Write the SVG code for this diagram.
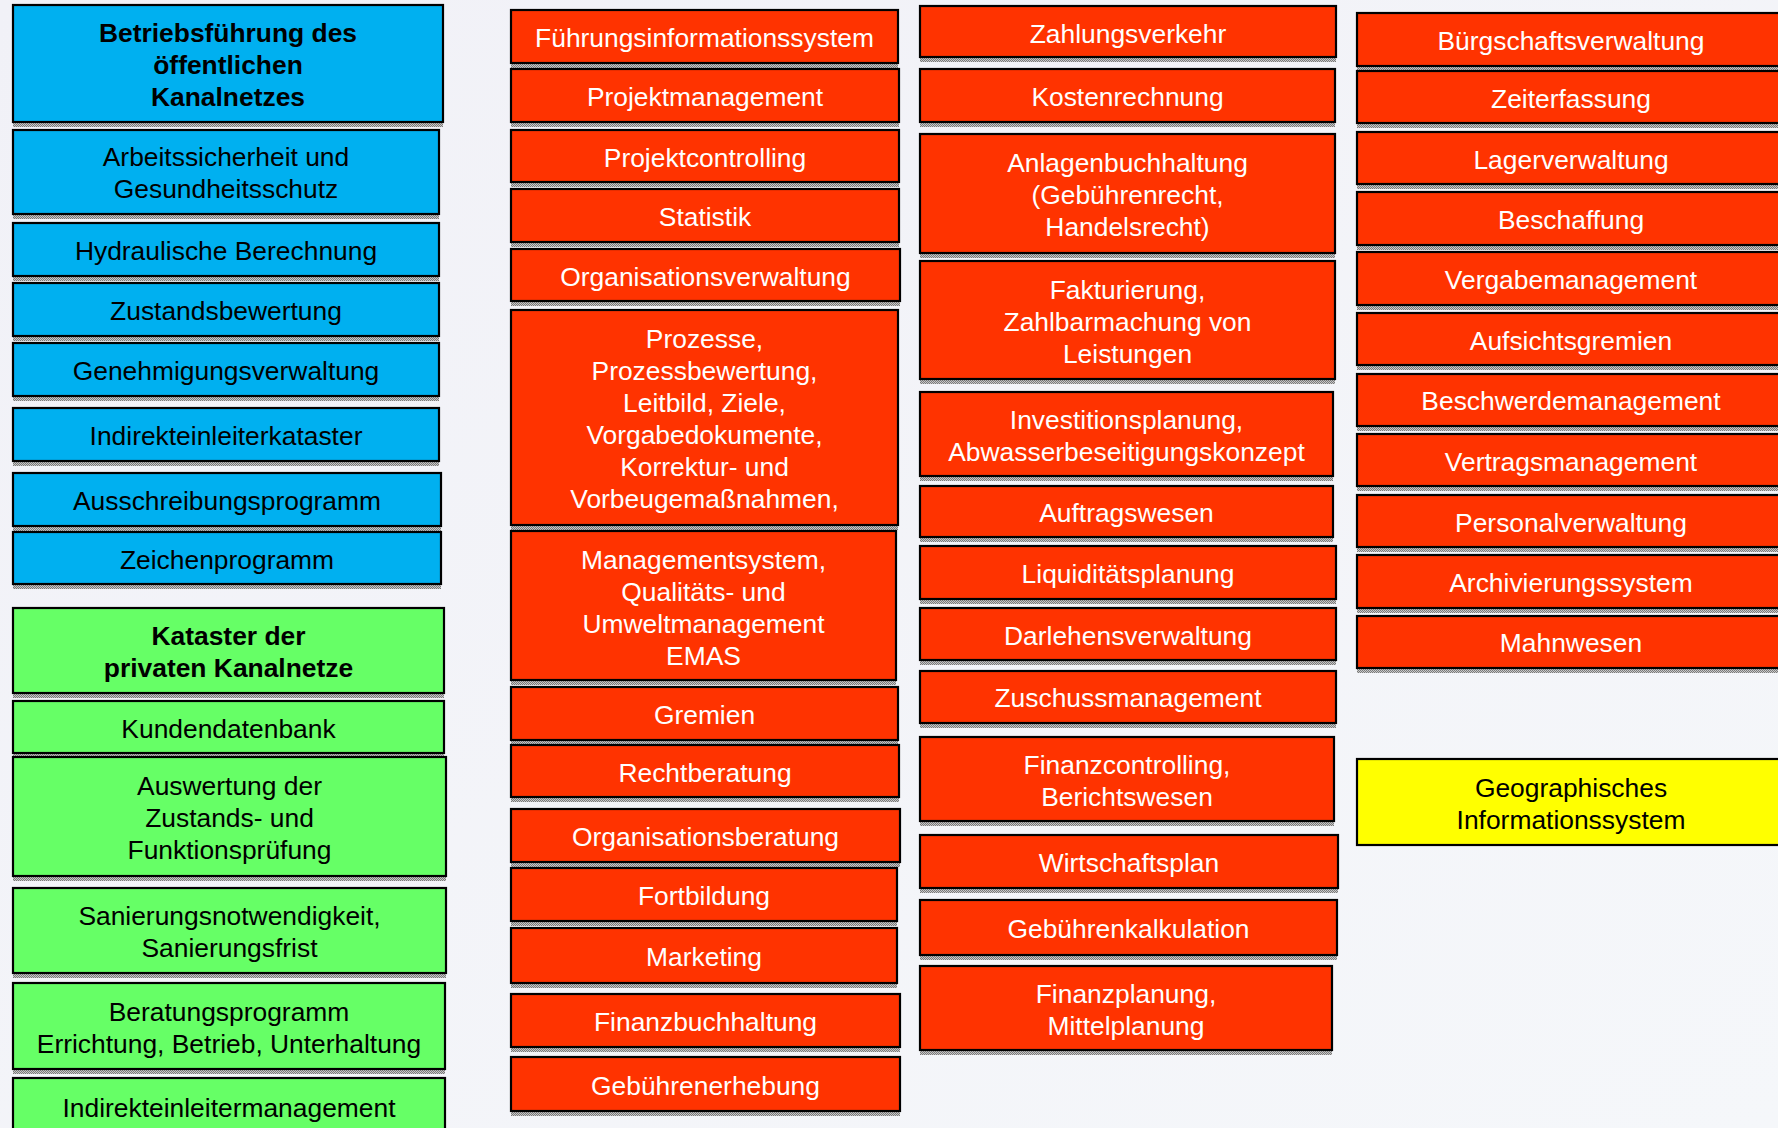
<svg xmlns="http://www.w3.org/2000/svg" width="1778" height="1128" viewBox="0 0 1778 1128">
<defs>
<linearGradient id="bg" x1="0" y1="0" x2="1" y2="1">
<stop offset="0" stop-color="#F1F1F7"/>
<stop offset="1" stop-color="#F5F7FA"/>
</linearGradient>
<pattern id="dots" width="2" height="2" patternUnits="userSpaceOnUse">
<rect width="2" height="2" fill="#c8c8c8"/>
<rect width="1" height="1" fill="#7a7a7a"/>
<rect x="1" y="1" width="1" height="1" fill="#7a7a7a"/>
</pattern>
</defs>
<style>
.sh{fill:url(#dots)}
.bx{stroke:#000;stroke-width:2.2}
.b{fill:#00B0F0}
.g{fill:#66FF66}
.r{fill:#FF3300}
.y{fill:#FFFF00}
text{font-family:"Liberation Sans",Arial,sans-serif;font-size:26.4px;text-anchor:middle;fill:#000}
.w{fill:#fff}
.bd{font-weight:bold}
</style>
<rect width="1778" height="1128" fill="url(#bg)"/>
<g id="connectors"></g>

<!-- Column 1 blue -->
<g id="n-betrieb"><rect class="sh" x="13" y="122" width="430" height="5"/><rect class="bx b" x="13" y="5" width="430" height="117"/><text class="bd" x="228" y="42">Betriebsführung des</text><text class="bd" x="228" y="74">öffentlichen</text><text class="bd" x="228" y="106">Kanalnetzes</text></g>
<g id="n-arbeit"><rect class="sh" x="13" y="214" width="426" height="5"/><rect class="bx b" x="13" y="130" width="426" height="84"/><text x="226" y="166">Arbeitssicherheit und</text><text x="226" y="198">Gesundheitsschutz</text></g>
<g id="n-hydr"><rect class="sh" x="13" y="276" width="426" height="5"/><rect class="bx b" x="13" y="223" width="426" height="53"/><text x="226" y="259.5">Hydraulische Berechnung</text></g>
<g id="n-zust"><rect class="sh" x="13" y="336" width="426" height="5"/><rect class="bx b" x="13" y="283" width="426" height="53"/><text x="226" y="320">Zustandsbewertung</text></g>
<g id="n-geneh"><rect class="sh" x="13" y="396" width="426" height="5"/><rect class="bx b" x="13" y="343" width="426" height="53"/><text x="226" y="380">Genehmigungsverwaltung</text></g>
<g id="n-indkat"><rect class="sh" x="13" y="461" width="426" height="5"/><rect class="bx b" x="13" y="408" width="426" height="53"/><text x="226" y="445">Indirekteinleiterkataster</text></g>
<g id="n-aussch"><rect class="sh" x="13" y="526" width="428" height="5"/><rect class="bx b" x="13" y="473" width="428" height="53"/><text x="227" y="510">Ausschreibungsprogramm</text></g>
<g id="n-zeichen"><rect class="sh" x="13" y="584" width="428" height="5"/><rect class="bx b" x="13" y="532" width="428" height="52"/><text x="227" y="568.5">Zeichenprogramm</text></g>

<!-- Column 1 green -->
<g id="n-kataster"><rect class="sh" x="13" y="693" width="431" height="5"/><rect class="bx g" x="13" y="608" width="431" height="85"/><text class="bd" x="228.5" y="645">Kataster der</text><text class="bd" x="228.5" y="677">privaten Kanalnetze</text></g>
<g id="n-kunden"><rect class="sh" x="13" y="753" width="431" height="5"/><rect class="bx g" x="13" y="701" width="431" height="52"/><text x="228.5" y="737.5">Kundendatenbank</text></g>
<g id="n-auswert"><rect class="sh" x="13" y="876" width="433" height="5"/><rect class="bx g" x="13" y="757" width="433" height="119"/><text x="229.5" y="795">Auswertung der</text><text x="229.5" y="827">Zustands- und</text><text x="229.5" y="859">Funktionsprüfung</text></g>
<g id="n-sanier"><rect class="sh" x="13" y="973" width="433" height="5"/><rect class="bx g" x="13" y="888" width="433" height="85"/><text x="229.5" y="925">Sanierungsnotwendigkeit,</text><text x="229.5" y="957">Sanierungsfrist</text></g>
<g id="n-berat"><rect class="sh" x="13" y="1069" width="432" height="5"/><rect class="bx g" x="13" y="983" width="432" height="86"/><text x="229" y="1020.5">Beratungsprogramm</text><text x="229" y="1052.5">Errichtung, Betrieb, Unterhaltung</text></g>
<g id="n-indman"><rect class="bx g" x="13" y="1078" width="432" height="58"/><text x="229" y="1117">Indirekteinleitermanagement</text></g>

<!-- Column 2 -->
<g id="n-fis"><rect class="sh" x="511" y="63" width="387" height="5"/><rect class="bx r" x="511" y="10" width="387" height="53"/><text class="w" x="704.5" y="47">Führungsinformationssystem</text></g>
<g id="n-projman"><rect class="sh" x="511" y="122" width="388" height="5"/><rect class="bx r" x="511" y="69" width="388" height="53"/><text class="w" x="705" y="106">Projektmanagement</text></g>
<g id="n-projctrl"><rect class="sh" x="511" y="182" width="388" height="5"/><rect class="bx r" x="511" y="130" width="388" height="52"/><text class="w" x="705" y="166.5">Projektcontrolling</text></g>
<g id="n-stat"><rect class="sh" x="511" y="242" width="388" height="5"/><rect class="bx r" x="511" y="189" width="388" height="53"/><text class="w" x="705" y="226">Statistik</text></g>
<g id="n-orgverw"><rect class="sh" x="511" y="301" width="389" height="5"/><rect class="bx r" x="511" y="249" width="389" height="52"/><text class="w" x="705.5" y="285.5">Organisationsverwaltung</text></g>
<g id="n-prozesse"><rect class="sh" x="511" y="525" width="387" height="5"/><rect class="bx r" x="511" y="310" width="387" height="215"/><text class="w" x="704.5" y="348">Prozesse,</text><text class="w" x="704.5" y="380">Prozessbewertung,</text><text class="w" x="704.5" y="412">Leitbild, Ziele,</text><text class="w" x="704.5" y="444">Vorgabedokumente,</text><text class="w" x="704.5" y="476">Korrektur- und</text><text class="w" x="704.5" y="508">Vorbeugemaßnahmen,</text></g>
<g id="n-mgmt"><rect class="sh" x="511" y="680" width="385" height="5"/><rect class="bx r" x="511" y="531" width="385" height="149"/><text class="w" x="703.5" y="568.5">Managementsystem,</text><text class="w" x="703.5" y="600.5">Qualitäts- und</text><text class="w" x="703.5" y="632.5">Umweltmanagement</text><text class="w" x="703.5" y="664.5">EMAS</text></g>
<g id="n-gremien"><rect class="sh" x="511" y="740" width="387" height="5"/><rect class="bx r" x="511" y="687" width="387" height="53"/><text class="w" x="704.5" y="724">Gremien</text></g>
<g id="n-recht"><rect class="sh" x="511" y="797" width="388" height="5"/><rect class="bx r" x="511" y="745" width="388" height="52"/><text class="w" x="705" y="781.5">Rechtberatung</text></g>
<g id="n-orgber"><rect class="sh" x="511" y="862" width="389" height="5"/><rect class="bx r" x="511" y="809" width="389" height="53"/><text class="w" x="705.5" y="846">Organisationsberatung</text></g>
<g id="n-fortb"><rect class="sh" x="511" y="921" width="386" height="5"/><rect class="bx r" x="511" y="868" width="386" height="53"/><text class="w" x="704" y="905">Fortbildung</text></g>
<g id="n-marketing"><rect class="sh" x="511" y="983" width="386" height="5"/><rect class="bx r" x="511" y="928" width="386" height="55"/><text class="w" x="704" y="966">Marketing</text></g>
<g id="n-finbuch"><rect class="sh" x="511" y="1047" width="389" height="5"/><rect class="bx r" x="511" y="994" width="389" height="53"/><text class="w" x="705.5" y="1031">Finanzbuchhaltung</text></g>
<g id="n-gebhb"><rect class="sh" x="511" y="1111" width="389" height="5"/><rect class="bx r" x="511" y="1057" width="389" height="54"/><text class="w" x="705.5" y="1094.5">Gebührenerhebung</text></g>

<!-- Column 3 -->
<g id="n-zahlung"><rect class="sh" x="920" y="57" width="416" height="5"/><rect class="bx r" x="920" y="6" width="416" height="51"/><text class="w" x="1128" y="42.5">Zahlungsverkehr</text></g>
<g id="n-kosten"><rect class="sh" x="920" y="122" width="415" height="5"/><rect class="bx r" x="920" y="69" width="415" height="53"/><text class="w" x="1127.5" y="106">Kostenrechnung</text></g>
<g id="n-anlagen"><rect class="sh" x="920" y="253" width="415" height="5"/><rect class="bx r" x="920" y="134" width="415" height="119"/><text class="w" x="1127.5" y="172">Anlagenbuchhaltung</text><text class="w" x="1127.5" y="204">(Gebührenrecht,</text><text class="w" x="1127.5" y="236">Handelsrecht)</text></g>
<g id="n-faktur"><rect class="sh" x="920" y="379" width="415" height="5"/><rect class="bx r" x="920" y="261" width="415" height="118"/><text class="w" x="1127.5" y="298.5">Fakturierung,</text><text class="w" x="1127.5" y="330.5">Zahlbarmachung von</text><text class="w" x="1127.5" y="362.5">Leistungen</text></g>
<g id="n-invest"><rect class="sh" x="920" y="476" width="413" height="5"/><rect class="bx r" x="920" y="392" width="413" height="84"/><text class="w" x="1126.5" y="428.5">Investitionsplanung,</text><text class="w" x="1126.5" y="460.5">Abwasserbeseitigungskonzept</text></g>
<g id="n-auftrag"><rect class="sh" x="920" y="537" width="413" height="5"/><rect class="bx r" x="920" y="486" width="413" height="51"/><text class="w" x="1126.5" y="522">Auftragswesen</text></g>
<g id="n-liqui"><rect class="sh" x="920" y="599" width="416" height="5"/><rect class="bx r" x="920" y="546" width="416" height="53"/><text class="w" x="1128" y="583">Liquiditätsplanung</text></g>
<g id="n-darlehen"><rect class="sh" x="920" y="660" width="416" height="5"/><rect class="bx r" x="920" y="608" width="416" height="52"/><text class="w" x="1128" y="644.5">Darlehensverwaltung</text></g>
<g id="n-zuschuss"><rect class="sh" x="920" y="723" width="416" height="5"/><rect class="bx r" x="920" y="671" width="416" height="52"/><text class="w" x="1128" y="707">Zuschussmanagement</text></g>
<g id="n-fincontr"><rect class="sh" x="920" y="821" width="414" height="5"/><rect class="bx r" x="920" y="737" width="414" height="84"/><text class="w" x="1127" y="773.5">Finanzcontrolling,</text><text class="w" x="1127" y="805.5">Berichtswesen</text></g>
<g id="n-wirtsch"><rect class="sh" x="920" y="888" width="418" height="5"/><rect class="bx r" x="920" y="835" width="418" height="53"/><text class="w" x="1129" y="872">Wirtschaftsplan</text></g>
<g id="n-gebkalk"><rect class="sh" x="920" y="955" width="417" height="5"/><rect class="bx r" x="920" y="900" width="417" height="55"/><text class="w" x="1128.5" y="938">Gebührenkalkulation</text></g>
<g id="n-finplan"><rect class="sh" x="920" y="1050" width="412" height="5"/><rect class="bx r" x="920" y="966" width="412" height="84"/><text class="w" x="1126" y="1002.5">Finanzplanung,</text><text class="w" x="1126" y="1034.5">Mittelplanung</text></g>

<!-- Column 4 -->
<g id="n-buergschaft"><rect class="sh" x="1357" y="66" width="428" height="5"/><rect class="bx r" x="1357" y="13" width="428" height="53"/><text class="w" x="1571" y="50">Bürgschaftsverwaltung</text></g>
<g id="n-zeit"><rect class="sh" x="1357" y="123" width="428" height="5"/><rect class="bx r" x="1357" y="71" width="428" height="52"/><text class="w" x="1571" y="107.5">Zeiterfassung</text></g>
<g id="n-lager"><rect class="sh" x="1357" y="184" width="428" height="5"/><rect class="bx r" x="1357" y="132" width="428" height="52"/><text class="w" x="1571" y="168.5">Lagerverwaltung</text></g>
<g id="n-beschaff"><rect class="sh" x="1357" y="245" width="428" height="5"/><rect class="bx r" x="1357" y="192" width="428" height="53"/><text class="w" x="1571" y="229">Beschaffung</text></g>
<g id="n-vergabe"><rect class="sh" x="1357" y="305" width="428" height="5"/><rect class="bx r" x="1357" y="252" width="428" height="53"/><text class="w" x="1571" y="289">Vergabemanagement</text></g>
<g id="n-aufsicht"><rect class="sh" x="1357" y="365" width="428" height="5"/><rect class="bx r" x="1357" y="313" width="428" height="52"/><text class="w" x="1571" y="349.5">Aufsichtsgremien</text></g>
<g id="n-beschwerde"><rect class="sh" x="1357" y="426" width="428" height="5"/><rect class="bx r" x="1357" y="374" width="428" height="52"/><text class="w" x="1571" y="410">Beschwerdemanagement</text></g>
<g id="n-vertrag"><rect class="sh" x="1357" y="486" width="428" height="5"/><rect class="bx r" x="1357" y="434" width="428" height="52"/><text class="w" x="1571" y="470.5">Vertragsmanagement</text></g>
<g id="n-personal"><rect class="sh" x="1357" y="547" width="428" height="5"/><rect class="bx r" x="1357" y="495" width="428" height="52"/><text class="w" x="1571" y="531.5">Personalverwaltung</text></g>
<g id="n-archiv"><rect class="sh" x="1357" y="608" width="428" height="5"/><rect class="bx r" x="1357" y="555" width="428" height="53"/><text class="w" x="1571" y="592">Archivierungssystem</text></g>
<g id="n-mahn"><rect class="sh" x="1357" y="668" width="428" height="5"/><rect class="bx r" x="1357" y="616" width="428" height="52"/><text class="w" x="1571" y="652">Mahnwesen</text></g>
<g id="n-gis"><rect class="bx y" x="1357" y="759" width="428" height="86"/><text x="1571" y="796.5">Geographisches</text><text x="1571" y="828.5">Informationssystem</text></g>
</svg>
